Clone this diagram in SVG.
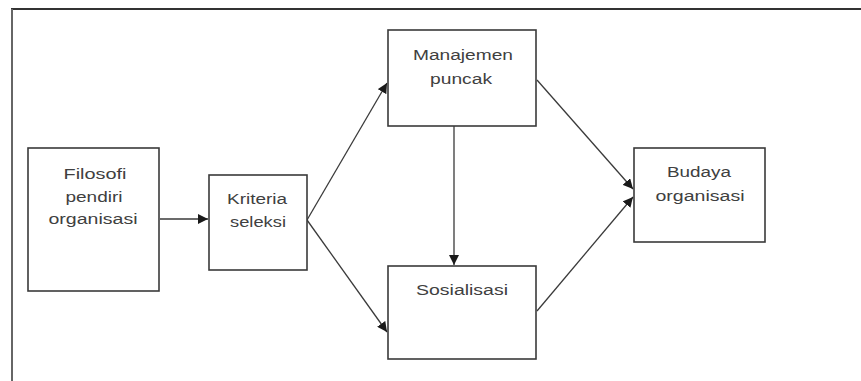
<svg xmlns="http://www.w3.org/2000/svg" width="861" height="381" viewBox="0 0 861 381">
<style>
.box{fill:#fff;stroke:#3a3a3a;stroke-width:1.6}
.t{font-family:"Liberation Sans",Arial,sans-serif;font-size:15.5px;fill:#404040;text-anchor:middle}
.c{stroke:#3a3a3a;stroke-width:1.3;fill:none;marker-end:url(#ah)}
</style>
<defs>
<marker id="ah" viewBox="0 0 10 10" refX="10" refY="5" markerWidth="10" markerHeight="10" markerUnits="userSpaceOnUse" orient="auto">
<path d="M0,0 L10,5 L0,10 z" fill="#1a1a1a"/>
</marker>
</defs>
<rect width="861" height="381" fill="#fff"/>
<g id="frame">
<line x1="11" y1="9" x2="861" y2="9" stroke="#333" stroke-width="2"/>
<line x1="12" y1="9" x2="12" y2="381" stroke="#666" stroke-width="2"/>
</g>
<g id="connectors">
<line class="c" x1="160" y1="219" x2="208" y2="219"/>
<line class="c" x1="307" y1="220" x2="387" y2="83"/>
<line class="c" x1="307" y1="220" x2="387" y2="332"/>
<line class="c" x1="454" y1="126" x2="454" y2="265"/>
<line class="c" x1="537" y1="80" x2="633" y2="189"/>
<line class="c" x1="537" y1="311" x2="633" y2="197"/>
</g>
<g id="filosofi">
<rect class="box" x="28" y="148" width="131" height="143"/>
<text class="t" x="95" y="179" textLength="63" lengthAdjust="spacingAndGlyphs">Filosofi</text>
<text class="t" x="94" y="202" textLength="57" lengthAdjust="spacingAndGlyphs">pendiri</text>
<text class="t" x="93" y="224" textLength="89" lengthAdjust="spacingAndGlyphs">organisasi</text>
</g>
<g id="kriteria">
<rect class="box" x="209" y="175" width="98" height="95"/>
<text class="t" x="257" y="204" textLength="60" lengthAdjust="spacingAndGlyphs">Kriteria</text>
<text class="t" x="258" y="227" textLength="56" lengthAdjust="spacingAndGlyphs">seleksi</text>
</g>
<g id="manajemen">
<rect class="box" x="388" y="30" width="148" height="96"/>
<text class="t" x="463" y="60" textLength="100" lengthAdjust="spacingAndGlyphs">Manajemen</text>
<text class="t" x="461" y="84" textLength="62" lengthAdjust="spacingAndGlyphs">puncak</text>
</g>
<g id="sosialisasi">
<rect class="box" x="388" y="266" width="148" height="93"/>
<text class="t" x="462" y="295" textLength="92" lengthAdjust="spacingAndGlyphs">Sosialisasi</text>
</g>
<g id="budaya">
<rect class="box" x="634" y="148" width="131" height="94"/>
<text class="t" x="699" y="177" textLength="64" lengthAdjust="spacingAndGlyphs">Budaya</text>
<text class="t" x="700" y="201" textLength="89" lengthAdjust="spacingAndGlyphs">organisasi</text>
</g>
</svg>
